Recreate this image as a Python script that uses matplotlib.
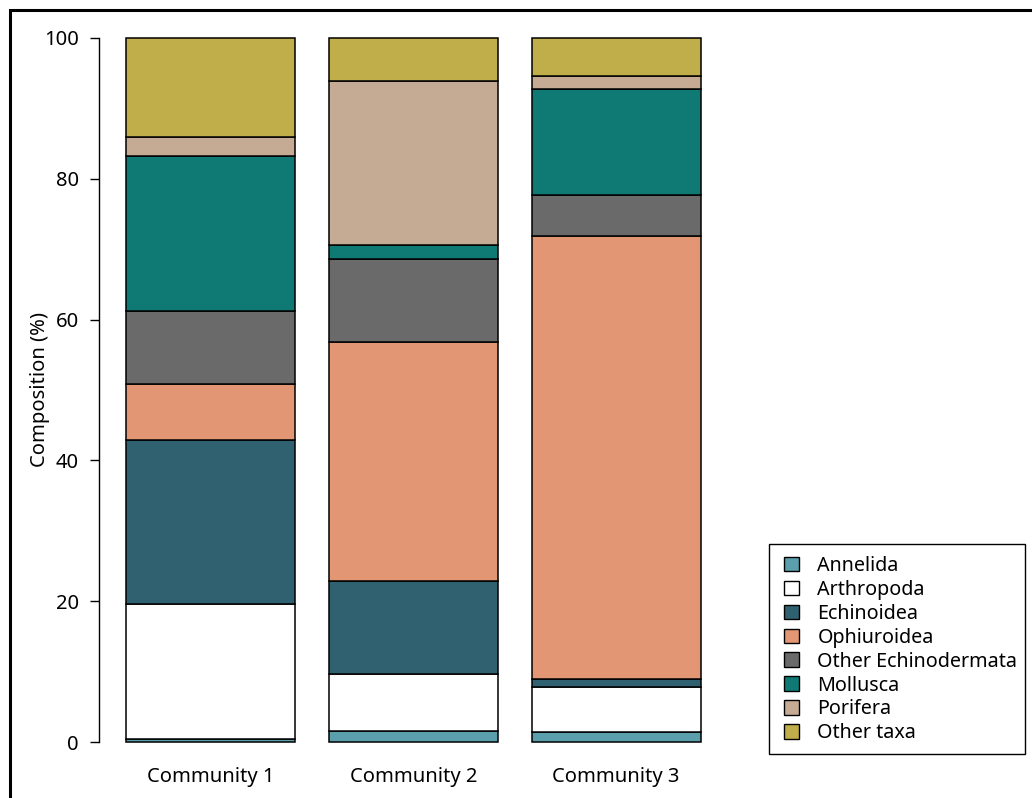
import numpy as np
import matplotlib
matplotlib.use("Agg")
from matplotlib import pyplot as plt
from matplotlib.patches import Rectangle, Patch

plt.rcParams["font.family"] = ["Noto Sans", "DejaVu Sans"]

communities = ["Community 1", "Community 2", "Community 3"]
taxa = [
    "Annelida",
    "Arthropoda",
    "Echinoidea",
    "Ophiuroidea",
    "Other Echinodermata",
    "Mollusca",
    "Porifera",
    "Other taxa",
]

# percent composition per taxon, one value per community
annelida = [0.4, 1.6, 1.4]
arthropoda = [19.2, 8.1, 6.4]
echinoidea = [23.3, 13.2, 1.2]
ophiuroidea = [8.0, 33.9, 62.9]
other_echinodermata = [10.3, 11.8, 5.8]
mollusca = [22.1, 2.0, 15.1]
porifera = [2.6, 23.3, 1.8]
other_taxa = [14.1, 6.1, 5.4]

colors = ["#5b9fac", "#ffffff", "#306171", "#e29674", "#696a69", "#0f7a74", "#c5aa94", "#c0ae4a"]

W, H = 1032, 798
fig = plt.figure(figsize=(W / 100, H / 100), dpi=100)

# plot region placed in pixel units, R barplot style (width 1, space 0.2)
px_left, px_right, px_top, px_bottom = 99, 720, 9.8, 770.2
ax = fig.add_axes([px_left / W, 1 - px_bottom / H, (px_right - px_left) / W, (px_bottom - px_top) / H])

x = 0.7 + 1.2 * np.arange(len(communities))
px_per_unit = (700.7 - 126) / 3.4
ax.set_xlim(0.2 - (126 - px_left) / px_per_unit, 3.6 + (px_right - 700.7) / px_per_unit)
ax.set_ylim(-4, 104)

series = [annelida, arthropoda, echinoidea, ophiuroidea, other_echinodermata, mollusca, porifera, other_taxa]
bottom = np.zeros(len(communities))
for vals, c in zip(series, colors):
    vals = np.array(vals)
    ax.bar(x, vals, width=1.0, bottom=bottom, color=c, edgecolor="black", linewidth=1.1)
    bottom += vals

fs = 14.5
for xi, name in zip(x, communities):
    ax.text(xi, -5.0, name, ha="center", va="center", fontsize=fs)

ax.set_xticks([])
ax.set_yticks([0, 20, 40, 60, 80, 100])
ax.tick_params(axis="y", length=6.5, width=1, labelsize=fs, pad=8)
for s in ["top", "right", "bottom"]:
    ax.spines[s].set_visible(False)
ax.spines["left"].set_bounds(0, 100)
ax.spines["left"].set_linewidth(1)
ax.set_ylabel("Composition (%)", fontsize=fs, labelpad=-4)

# legend entries without their own frame; the box is drawn separately
handles = [Patch(facecolor=c, edgecolor="black", linewidth=1) for c in colors]
fig.legend(
    handles,
    taxa,
    loc="upper left",
    bbox_to_anchor=(769 / W, 1 - 541 / H),
    borderaxespad=0,
    frameon=False,
    fontsize=14.2,
    handlelength=0.75,
    handleheight=0.75,
    handletextpad=0.95,
    labelspacing=0.2,
    borderpad=0.75,
)
fig.patches.append(
    Rectangle((769 / W, 1 - 754 / H), (1025 - 769) / W, (754 - 544) / H,
              transform=fig.transFigure, fill=False, edgecolor="black", linewidth=1)
)

# outer frame
fig.patches.append(
    Rectangle((10 / W, -0.1), 1.2, 1.1 - 10 / H, transform=fig.transFigure,
              fill=False, edgecolor="black", linewidth=2.2)
)

fig.savefig("out.png", dpi=100)
